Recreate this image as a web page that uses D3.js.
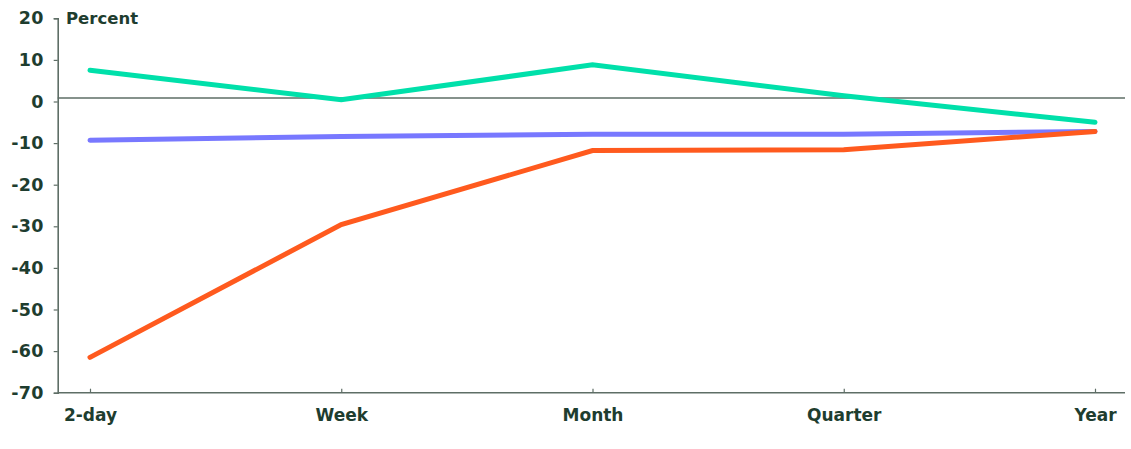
<!DOCTYPE html>
<html>
<head>
<meta charset="utf-8">
<script src="https://cdn.jsdelivr.net/npm/d3@7/dist/d3.min.js"></script>
<style>
  html, body { margin: 0; padding: 0; background: #ffffff; }
  svg { display: block; }
  text { font-family: "DejaVu Sans", sans-serif; font-weight: bold; fill: #1e3d2f; }
</style>
</head>
<body>
<svg id="chart" width="1131" height="449"></svg>
<script>
const categories = ["2-day", "Week", "Month", "Quarter", "Year"];
const tealValues = [7.5, 0.4, 8.8, 1.4, -5.0];
const purpleValues = [-9.3, -8.4, -7.9, -7.9, -7.2];
const orangeValues = [-61.5, -29.6, -11.8, -11.6, -7.2];
const yTicks = [20, 10, 0, -10, -20, -30, -40, -50, -60, -70];
const yLabel = "Percent";

const series = [
  { name: "purple", values: purpleValues, color: "#7878ff" },
  { name: "orange", values: orangeValues, color: "#ff5a1e" },
  { name: "teal", values: tealValues, color: "#00e0aa" }
];

const svg = d3.select("#chart");
const axisColor = "#5e6e66";

const x = d3.scalePoint().domain(categories).range([90, 1095]);
const y = d3.scaleLinear().domain([-70, 20]).range([392.7, 18.3]);
const xLeft = 57.7, xRight = 1125;

// Left axis
const yAxis = d3.axisLeft(y).tickValues(yTicks).tickSize(4).tickPadding(10)
  .tickFormat(d => String(d));
const gy = svg.append("g").attr("transform", `translate(${xLeft},0)`).call(yAxis);
gy.select(".domain").attr("stroke", axisColor).attr("stroke-width", 1.6);
gy.selectAll(".tick line").attr("stroke", axisColor).attr("stroke-width", 1.2);
gy.selectAll(".tick text").attr("font-size", "17.5px").attr("fill", "#1e3d2f")
  .attr("font-family", "DejaVu Sans, sans-serif").attr("font-weight", "bold")
  .attr("letter-spacing", "0.3px");

// Bottom axis
const xAxis = d3.axisBottom(x).tickSize(-4).tickPadding(16);
const gx = svg.append("g").attr("transform", `translate(0,${y(-70)})`).call(xAxis);
gx.select(".domain").attr("d", `M${xLeft},0H${xRight}`).attr("stroke", axisColor).attr("stroke-width", 1.6);
gx.selectAll(".tick line").attr("stroke", axisColor).attr("stroke-width", 1.2);
gx.selectAll(".tick text").attr("font-size", "17px").attr("fill", "#1e3d2f")
  .attr("font-family", "DejaVu Sans, sans-serif").attr("font-weight", "bold");

// Zero line
svg.append("line")
  .attr("x1", xLeft).attr("x2", xRight)
  .attr("y1", y(0) - 3.5).attr("y2", y(0) - 3.5)
  .attr("stroke", axisColor).attr("stroke-width", 1.6);

// Axis title
svg.append("text").attr("x", 66).attr("y", y(20)).attr("dy", "0.35em")
  .attr("font-size", "16.5px").text(yLabel);

// Lines
const line = d3.line().x((d, i) => x(categories[i])).y(d => y(d));
svg.selectAll("path.series").data(series).enter().append("path")
  .attr("class", "series")
  .attr("d", d => line(d.values))
  .attr("fill", "none")
  .attr("stroke", d => d.color)
  .attr("stroke-width", 5)
  .attr("stroke-linejoin", "miter")
  .attr("stroke-linecap", "round");
</script>
</body>
</html>
